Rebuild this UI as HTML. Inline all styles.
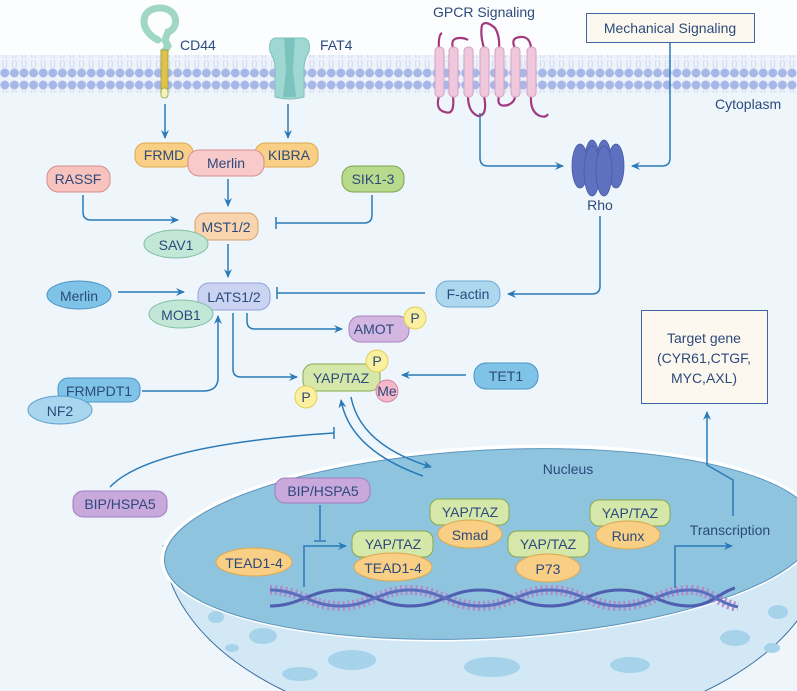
<!DOCTYPE html>
<html><head><meta charset="utf-8"><style>
html,body{margin:0;padding:0;background:#fff;overflow:hidden;width:797px;height:691px}
svg{display:block}
text{font-family:"Liberation Sans",sans-serif;fill:#2c4a7c;font-size:14px}
</style></head><body>
<svg width="797" height="691" viewBox="0 0 797 691" xmlns="http://www.w3.org/2000/svg">
<defs>
<marker id="a" markerWidth="10" markerHeight="10" refX="8" refY="5" orient="auto" markerUnits="userSpaceOnUse"><path d="M0,1 L9,5 L0,9 L3,5 Z" fill="#2a7ab8"/></marker>
<pattern id="mem" x="0" y="0" width="9.6" height="40" patternUnits="userSpaceOnUse">
<circle cx="4.8" cy="5" r="4.5" fill="#a7b7e6"/>
<circle cx="4.8" cy="33" r="4.5" fill="#a7b7e6"/>
<path d="M3.5,10 q-1.5,4 0,8 M6,10 q1.5,4 0,8 M3.5,20 q-1.5,4 0,8 M6,20 q1.5,4 0,8" stroke="#c6d0ec" stroke-width="0.8" fill="none"/>
</pattern>
<clipPath id="bot"><rect x="0" y="545" width="797" height="146"/></clipPath>
</defs>
<rect width="797" height="691" fill="#eff6fb"/>
<rect width="797" height="55" fill="#fbfdfe"/>
<rect x="0" y="55" width="797" height="38" fill="#eef3fb"/>
<rect x="0" y="55" width="797" height="38" fill="url(#mem)"/>

<!-- CD44 -->
<path d="M158,40 C138,30 140,8 160,8 C178,8 180,28 168,32 L165,40 L168,46 L164,52" stroke="#9fd7c3" stroke-width="7" fill="none" stroke-linecap="round"/>
<rect x="161" y="50" width="7" height="42" fill="#e2c04a" stroke="#8da040" stroke-width="0.8"/>
<rect x="161" y="88" width="7" height="10" rx="3" fill="#f6f1b8" stroke="#8da040" stroke-width="0.8"/>
<text x="180" y="50" font-size="15">CD44</text>
<!-- FAT4 -->
<path d="M275,38 Q268,40 270,52 Q276,60 275,75 L275,97 Q289,101 304,97 L304,75 Q303,60 309,52 Q311,40 304,38 Z" fill="#9fd8d2" stroke="#7cc0ba"/>
<path d="M284,38 L295,38 L293,70 L296,97 L283,97 L286,70 Z" fill="#7cc3bd"/>
<text x="320" y="50" font-size="15">FAT4</text>

<!-- GPCR -->
<text x="433" y="17" font-size="14">GPCR Signaling</text>
<path d="M439,50 Q438,35 442,33 M453,48 Q450,38 460,38 Q465,38 468,40 M484,48 Q480,35 482,25 Q486,20 495,28 Q500,36 499,48 M515,48 Q510,38 520,37 Q530,36 531,48 M439,96 Q435,110 445,112 Q455,116 453,96 M468,96 Q468,112 478,116 Q488,116 484,96 M499,96 Q496,108 508,105 Q515,102 515,96 M531,96 Q530,112 540,116 Q546,118 548,114" stroke="#a23a7d" stroke-width="2.2" fill="none"/>
<g fill="#f0c8de" stroke="#d6a2c2" stroke-width="1">
<rect x="435" y="47" width="9" height="50" rx="4"/><rect x="449" y="47" width="9" height="50" rx="4"/><rect x="464" y="47" width="9" height="50" rx="4"/><rect x="480" y="47" width="9" height="50" rx="4"/><rect x="495" y="47" width="9" height="50" rx="4"/><rect x="511" y="47" width="9" height="50" rx="4"/><rect x="527" y="47" width="9" height="50" rx="4"/>
</g>
<!-- Mechanical -->
<rect x="586.5" y="13.5" width="168" height="29" fill="#fdf8ef" stroke="#3f64a0"/>
<text x="670" y="33" text-anchor="middle">Mechanical Signaling</text>
<text x="715" y="109">Cytoplasm</text>

<g stroke="#2a7ab8" stroke-width="1.5" fill="none">
<path d="M670,43 V158 Q670,166 662,166 H632" marker-end="url(#a)"/>
<path d="M480,113 V158 Q480,166 488,166 H563" marker-end="url(#a)"/>
<path d="M165,104 V138" marker-end="url(#a)"/>
<path d="M288,104 V138" marker-end="url(#a)"/>
<path d="M228,179 V206" marker-end="url(#a)"/>
<path d="M83,195 V212 Q83,220 91,220 H178" marker-end="url(#a)"/>
<path d="M372,195 V215 Q372,223 364,223 H276 M276,217 V229"/>
<path d="M228,244 V277" marker-end="url(#a)"/>
<path d="M118,292 H184" marker-end="url(#a)"/>
<path d="M425,293 H277 M277,287 V299"/>
<path d="M600,216 V286 Q600,294 592,294 H508" marker-end="url(#a)"/>
<path d="M247,313 V321 Q247,329 255,329 H342" marker-end="url(#a)"/>
<path d="M233,313 V369 Q233,377 241,377 H297" marker-end="url(#a)"/>
<path d="M466,375 H402" marker-end="url(#a)"/>
<path d="M142,391 H203 Q218,391 218,378 V316" marker-end="url(#a)"/>
<path d="M110,487 Q150,445 334,433 M334,427 V439"/>
</g>

<!-- Rho -->
<g fill="#5d71c0" stroke="#4a5ca8" stroke-width="0.8">
<ellipse cx="592" cy="160" rx="7" ry="20"/><ellipse cx="604" cy="160" rx="7" ry="20"/>
<ellipse cx="580" cy="166" rx="8" ry="22"/><ellipse cx="616" cy="166" rx="8" ry="22"/>
<ellipse cx="592" cy="171" rx="8" ry="25"/><ellipse cx="604" cy="171" rx="8" ry="25"/>
</g>
<text x="600" y="210" text-anchor="middle" font-size="15">Rho</text>

<!-- upper nodes -->
<g stroke-width="1">
<rect x="135" y="143" width="58" height="24" rx="10" fill="#f8cf84" stroke="#dba84e"/>
<rect x="255" y="143" width="63" height="24" rx="10" fill="#f8cf84" stroke="#dba84e"/>
<rect x="188" y="150" width="76" height="26" rx="11" fill="#f8caca" stroke="#d68d8d"/>
<rect x="47" y="166" width="63" height="26" rx="11" fill="#f8c2bd" stroke="#d68d8d"/>
<rect x="342" y="166" width="62" height="26" rx="11" fill="#b8da8c" stroke="#7ea24c"/>
<rect x="195" y="213" width="63" height="27" rx="10" fill="#f8d5ae" stroke="#d4a06c"/>
<ellipse cx="176" cy="244" rx="32" ry="14" fill="#c3e7d6" stroke="#7fbfa4"/>
<ellipse cx="79" cy="295" rx="32" ry="14" fill="#7fc3e8" stroke="#4d93c2"/>
<rect x="198" y="283" width="72" height="27" rx="11" fill="#cbd3f2" stroke="#93a0d8"/>
<ellipse cx="181" cy="314" rx="32" ry="14" fill="#c3e7d6" stroke="#7fbfa4"/>
<rect x="436" y="281" width="64" height="26" rx="12" fill="#acd7ef" stroke="#6fa9d2"/>
<rect x="349" y="316" width="60" height="26" rx="11" fill="#d3b6e2" stroke="#a883bf"/>
<circle cx="415" cy="318" r="11" fill="#faf0a0" stroke="#e2cf55"/>
<rect x="474" y="363" width="64" height="26" rx="12" fill="#7fc3e8" stroke="#4d93c2"/>
<rect x="58" y="378" width="82" height="24" rx="10" fill="#7fc3e8" stroke="#4d93c2"/>
<ellipse cx="60" cy="410" rx="32" ry="14" fill="#a8d6ee" stroke="#5c9dc8"/>
<rect x="303" y="364" width="77" height="27" rx="10" fill="#d5e8aa" stroke="#86a94c"/>
<circle cx="377" cy="361" r="11" fill="#faf0a0" stroke="#e2cf55"/>
<circle cx="306" cy="397" r="11" fill="#faf0a0" stroke="#e2cf55"/>
<circle cx="387" cy="391" r="11" fill="#f3b9cb" stroke="#d686a2"/>
<rect x="73" y="491" width="94" height="26" rx="10" fill="#c9a8db" stroke="#a07cbd"/>
</g>
<g font-size="15">
<text x="164" y="160" text-anchor="middle">FRMD</text>
<text x="289" y="160" text-anchor="middle">KIBRA</text>
<text x="226" y="168" text-anchor="middle">Merlin</text>
<text x="78" y="184" text-anchor="middle">RASSF</text>
<text x="373" y="184" text-anchor="middle">SIK1-3</text>
<text x="226" y="232" text-anchor="middle">MST1/2</text>
<text x="176" y="250" text-anchor="middle">SAV1</text>
<text x="79" y="301" text-anchor="middle">Merlin</text>
<text x="234" y="302" text-anchor="middle">LATS1/2</text>
<text x="181" y="320" text-anchor="middle">MOB1</text>
<text x="468" y="299" text-anchor="middle">F-actin</text>
<text x="374" y="334" text-anchor="middle">AMOT</text>
<text x="415" y="323" text-anchor="middle">P</text>
<text x="506" y="381" text-anchor="middle">TET1</text>
<text x="99" y="396" text-anchor="middle">FRMPDT1</text>
<text x="60" y="416" text-anchor="middle">NF2</text>
<text x="341" y="383" text-anchor="middle">YAP/TAZ</text>
<text x="377" y="366" text-anchor="middle">P</text>
<text x="306" y="402" text-anchor="middle">P</text>
<text x="387" y="396" text-anchor="middle">Me</text>
<text x="120" y="509" text-anchor="middle">BIP/HSPA5</text>
</g>

<!-- Target gene -->
<rect x="641.5" y="310.5" width="126" height="93" fill="#fdf8ef" stroke="#3f64a0"/>
<text x="704" y="343" text-anchor="middle">Target gene</text>
<text x="704" y="363" text-anchor="middle">(CYR61,CTGF,</text>
<text x="704" y="383" text-anchor="middle">MYC,AXL)</text>

<!-- Nucleus bowl -->
<ellipse cx="495" cy="540" rx="332" ry="195" fill="#d2e9f5" stroke="#3f6fa0" stroke-width="1" clip-path="url(#bot)"/>
<g fill="#a6d2ea">
<ellipse cx="216" cy="617" rx="8" ry="6"/><ellipse cx="263" cy="636" rx="14" ry="8"/><ellipse cx="232" cy="648" rx="7" ry="4"/>
<ellipse cx="300" cy="674" rx="18" ry="7"/><ellipse cx="352" cy="660" rx="24" ry="10"/><ellipse cx="492" cy="667" rx="28" ry="10"/>
<ellipse cx="630" cy="665" rx="20" ry="8"/><ellipse cx="735" cy="638" rx="15" ry="8"/><ellipse cx="778" cy="612" rx="10" ry="7"/><ellipse cx="772" cy="648" rx="8" ry="5"/>
</g>
<g transform="rotate(-3 490 543)">
<ellipse cx="490" cy="543" rx="330" ry="97" fill="#fff"/>
<ellipse cx="490" cy="544" rx="326" ry="94" fill="#8fc4df" stroke="#5c93bd" stroke-width="1"/>
</g>
<text x="568" y="474" text-anchor="middle" font-size="15">Nucleus</text>

<!-- DNA -->
<g fill="none">
<path d="M270,590 C300,590 310,606 340,606 C370,606 380,590 410,590 C440,590 450,606 480,606 C510,606 520,590 550,590 C580,590 590,606 620,606 C650,606 660,590 690,590 C710,590 720,604 738,607" stroke="#b488c8" stroke-width="10" stroke-dasharray="2 3"/>
<path d="M270,606 C300,606 310,590 340,590 C370,590 380,606 410,606 C440,606 450,590 480,590 C510,590 520,606 550,606 C580,606 590,590 620,590 C650,590 660,606 690,606 C710,606 720,592 735,588" stroke="#4f5fb0" stroke-width="3"/>
<path d="M270,590 C300,590 310,606 340,606 C370,606 380,590 410,590 C440,590 450,606 480,606 C510,606 520,590 550,590 C580,590 590,606 620,606 C650,606 660,590 690,590 C710,590 720,604 738,607" stroke="#5d6dbd" stroke-width="3"/>
</g>

<g stroke="#2a7ab8" stroke-width="1.5" fill="none">
<path d="M423,476 Q350,450 341,400" marker-end="url(#a)"/>
<path d="M351,397 Q360,445 431,467" marker-end="url(#a)"/>
<path d="M320,505 V540 M314,541 H326"/>
<path d="M304,587 V546 H346" marker-end="url(#a)"/>
<path d="M675,588 V546 H732" marker-end="url(#a)"/>
<path d="M733,516 V480 L707,465 V412" marker-end="url(#a)"/>
</g>

<!-- nucleus nodes -->
<g stroke-width="1">
<rect x="275" y="478" width="95" height="25" rx="10" fill="#c9a8db" stroke="#a07cbd"/>
<ellipse cx="254" cy="562" rx="38" ry="14" fill="#f8cf84" stroke="#dba84e"/>
<rect x="352" y="531" width="81" height="26" rx="9" fill="#d5e8aa" stroke="#86a94c"/>
<ellipse cx="393" cy="567" rx="39" ry="14" fill="#f8cf84" stroke="#dba84e"/>
<rect x="430" y="499" width="79" height="26" rx="9" fill="#d5e8aa" stroke="#86a94c"/>
<ellipse cx="470" cy="534" rx="32" ry="14" fill="#f8cf84" stroke="#dba84e"/>
<rect x="508" y="531" width="81" height="26" rx="9" fill="#d5e8aa" stroke="#86a94c"/>
<ellipse cx="548" cy="568" rx="32" ry="14" fill="#f8cf84" stroke="#dba84e"/>
<rect x="590" y="500" width="80" height="26" rx="9" fill="#d5e8aa" stroke="#86a94c"/>
<ellipse cx="628" cy="535" rx="32" ry="14" fill="#f8cf84" stroke="#dba84e"/>
</g>
<g font-size="15">
<text x="323" y="496" text-anchor="middle">BIP/HSPA5</text>
<text x="254" y="568" text-anchor="middle">TEAD1-4</text>
<text x="393" y="549" text-anchor="middle">YAP/TAZ</text>
<text x="393" y="573" text-anchor="middle">TEAD1-4</text>
<text x="470" y="517" text-anchor="middle">YAP/TAZ</text>
<text x="470" y="540" text-anchor="middle">Smad</text>
<text x="548" y="549" text-anchor="middle">YAP/TAZ</text>
<text x="548" y="574" text-anchor="middle">P73</text>
<text x="630" y="518" text-anchor="middle">YAP/TAZ</text>
<text x="628" y="541" text-anchor="middle">Runx</text>
<text x="730" y="535" text-anchor="middle">Transcription</text>
</g>
</svg>
</body></html>
